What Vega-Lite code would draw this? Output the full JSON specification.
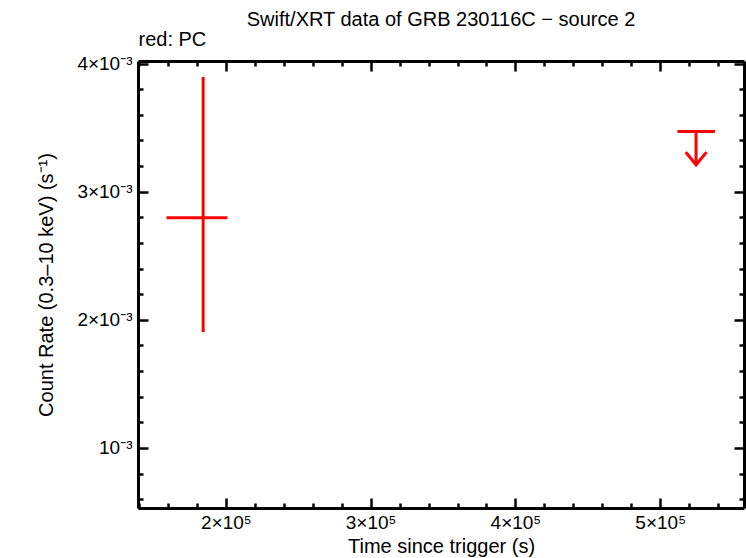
{
  "$schema": "https://vega.github.io/schema/vega-lite/v6.json",
  "autosize": "none",
  "width": 606,
  "height": 447,
  "padding": {"left": 138, "top": 61, "right": 2, "bottom": 50},
  "background": "white",
  "title": {"text": "Swift/XRT data of GRB 230116C − source 2", "font": "Liberation Sans", "fontSize": 20, "fontWeight": "normal", "color": "black", "anchor": "middle", "offset": -1},
  "config": {
    "view": {"stroke": null},
    "axis": {"grid": false, "domainColor": "black", "domainWidth": 3, "tickColor": "black", "tickWidth": 2.5, "labelFont": "Liberation Sans", "labelFontSize": 19, "labelColor": "black", "titleFont": "Liberation Sans", "titleFontSize": 20, "titleFontWeight": "normal", "titleColor": "black", "labelOverlap": false, "labelBound": false, "labelFlush": false}
  },
  "data": {"values": [
    {"kind": "det", "t": 184300, "t0": 159000, "t1": 201000, "rate": 0.002797, "lo": 0.001904, "hi": 0.003895},
    {"kind": "ul", "t": 524800, "t0": 511900, "t1": 537800, "rate": 0.003469, "tip": 0.00321}
  ]},
  "resolve": {"axis": {"x": "independent", "y": "independent"}},
  "layer": [
    {
      "transform": [{"filter": "datum.kind === 'det'"}],
      "mark": {"type": "rule", "color": "#ff0000", "strokeWidth": 3},
      "encoding": {
        "x": {"field": "t0", "type": "quantitative", "scale": {"domain": [139300, 557900], "nice": false, "zero": false},
          "axis": {"orient": "bottom", "title": "Time since trigger (s)", "titlePadding": -1,
            "values": [140000,160000,180000,200000,220000,240000,260000,280000,300000,320000,340000,360000,380000,400000,420000,440000,460000,480000,500000,520000,540000],
            "labelExpr": "datum.value % 100000 === 0 ? format(datum.value/100000, 'd') + '×10⁵' : ''",
            "tickSize": {"condition": {"test": "datum.value % 100000 === 0", "value": -10}, "value": -5},
            "labelPadding": 15}},
        "x2": {"field": "t1"},
        "y": {"field": "rate", "type": "quantitative", "scale": {"domain": [0.000531, 0.00402], "nice": false, "zero": false},
          "axis": {"orient": "left", "title": "Count Rate (0.3–10 keV) (s⁻¹)", "titlePadding": 20,
            "values": [0.0006,0.0008,0.001,0.0012,0.0014,0.0016,0.0018,0.002,0.0022,0.0024,0.0026,0.0028,0.003,0.0032,0.0034,0.0036,0.0038,0.004],
            "labelExpr": "round(datum.value*10000) % 10 === 0 ? (round(datum.value*10000) === 10 ? '10⁻³' : format(round(datum.value*1000), 'd') + '×10⁻³') : ''",
            "tickSize": {"condition": {"test": "round(datum.value*10000) % 10 === 0", "value": -10}, "value": -5},
            "labelPadding": 16}}
      }
    },
    {
      "transform": [{"filter": "datum.kind === 'det'"}],
      "mark": {"type": "rule", "color": "#ff0000", "strokeWidth": 3},
      "encoding": {
        "x": {"field": "t", "type": "quantitative",
          "axis": {"orient": "top", "title": "red: PC", "titleAnchor": "start", "titleAlign": "left", "titlePadding": -4,
            "values": [140000,160000,180000,200000,220000,240000,260000,280000,300000,320000,340000,360000,380000,400000,420000,440000,460000,480000,500000,520000,540000],
            "labelExpr": "''",
            "tickSize": {"condition": {"test": "datum.value % 100000 === 0", "value": -10}, "value": -5}}},
        "y": {"field": "lo", "type": "quantitative",
          "axis": {"orient": "right", "title": null,
            "values": [0.0006,0.0008,0.001,0.0012,0.0014,0.0016,0.0018,0.002,0.0022,0.0024,0.0026,0.0028,0.003,0.0032,0.0034,0.0036,0.0038,0.004],
            "labelExpr": "''",
            "tickSize": {"condition": {"test": "round(datum.value*10000) % 10 === 0", "value": -10}, "value": -5}}},
        "y2": {"field": "hi"}
      }
    },
    {
      "transform": [{"filter": "datum.kind === 'ul'"}],
      "mark": {"type": "rule", "color": "#ff0000", "strokeWidth": 3},
      "encoding": {
        "x": {"field": "t0", "type": "quantitative", "axis": null},
        "x2": {"field": "t1"},
        "y": {"field": "rate", "type": "quantitative", "axis": null}
      }
    },
    {
      "transform": [{"filter": "datum.kind === 'ul'"}],
      "mark": {"type": "rule", "color": "#ff0000", "strokeWidth": 3},
      "encoding": {
        "x": {"field": "t", "type": "quantitative", "axis": null},
        "y": {"field": "rate", "type": "quantitative", "axis": null},
        "y2": {"field": "tip"}
      }
    },
    {
      "transform": [{"filter": "datum.kind === 'ul'"}],
      "mark": {"type": "point", "shape": "M-0.82,-1L0,0L0.82,-1", "filled": false, "stroke": "#ff0000", "strokeWidth": 3, "size": 529, "opacity": 1, "strokeCap": "square"},
      "encoding": {
        "x": {"field": "t", "type": "quantitative", "axis": null},
        "y": {"field": "tip", "type": "quantitative", "axis": null}
      }
    }
  ]
}
